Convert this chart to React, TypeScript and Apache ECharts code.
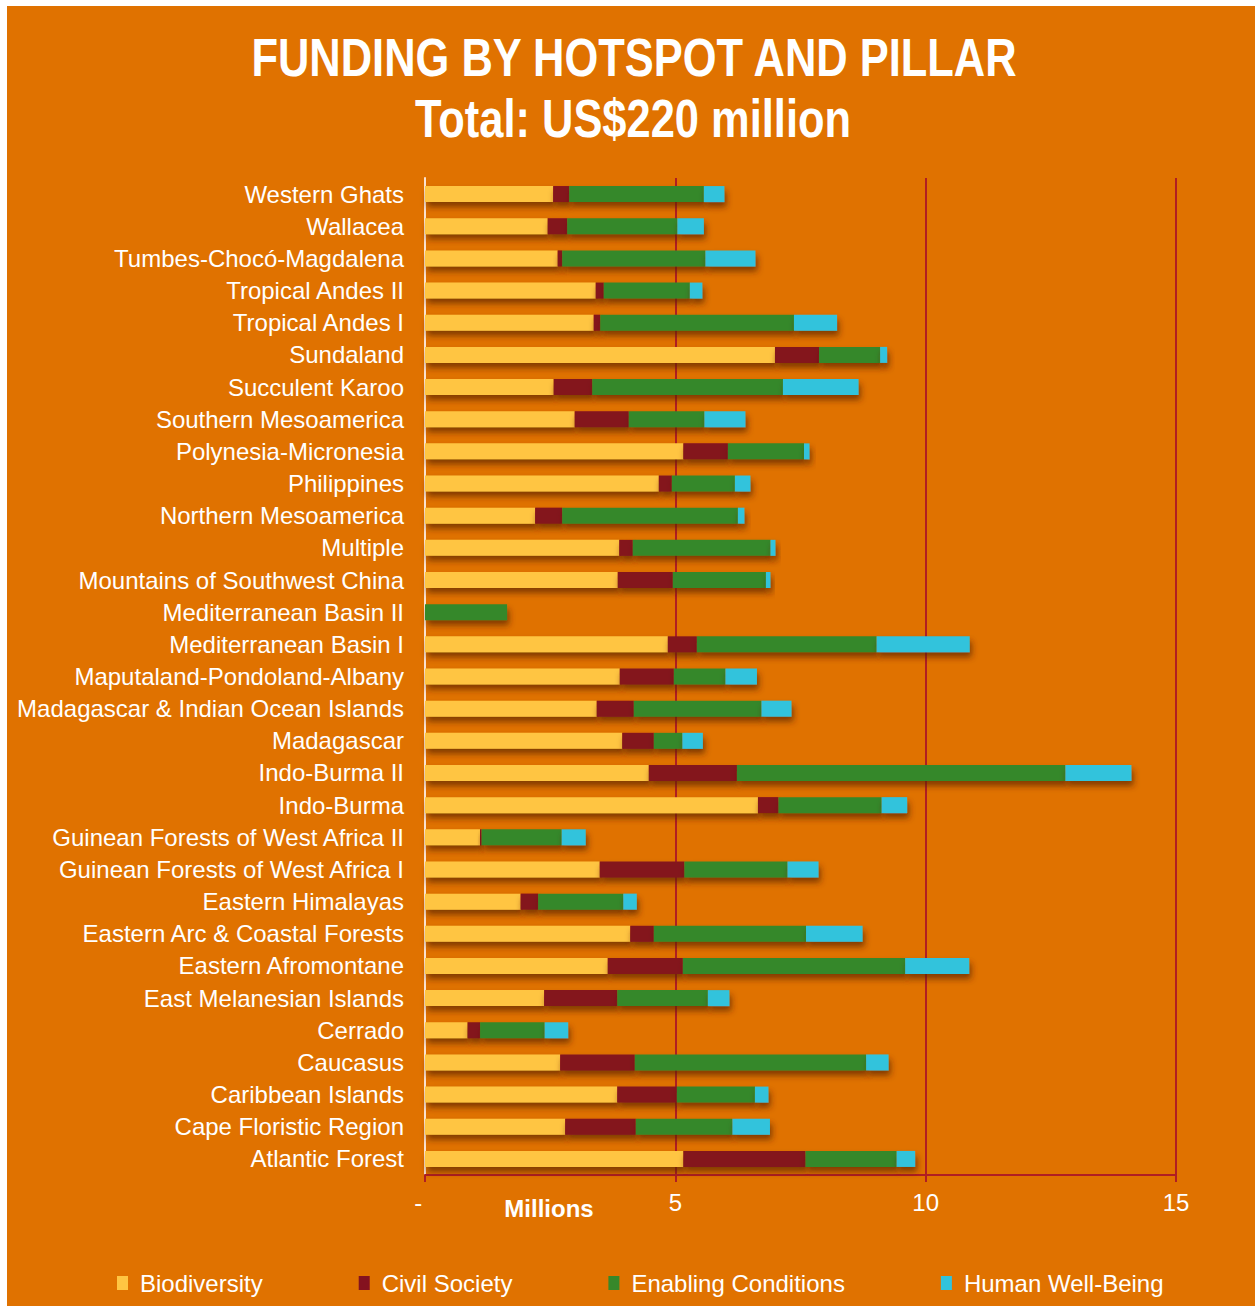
import React, { useEffect, useRef } from "react";
import * as echarts from "echarts";

const categories = [
  "Western Ghats", "Wallacea", "Tumbes-Chocó-Magdalena", "Tropical Andes II", "Tropical Andes I",
  "Sundaland", "Succulent Karoo", "Southern Mesoamerica", "Polynesia-Micronesia", "Philippines",
  "Northern Mesoamerica", "Multiple", "Mountains of Southwest China", "Mediterranean Basin II",
  "Mediterranean Basin I", "Maputaland-Pondoland-Albany", "Madagascar & Indian Ocean Islands",
  "Madagascar", "Indo-Burma II", "Indo-Burma", "Guinean Forests of West Africa II",
  "Guinean Forests of West Africa I", "Eastern Himalayas", "Eastern Arc & Coastal Forests",
  "Eastern Afromontane", "East Melanesian Islands", "Cerrado", "Caucasus", "Caribbean Islands",
  "Cape Floristic Region", "Atlantic Forest",
];

const biodiversity = [2.56, 2.45, 2.65, 3.41, 3.37, 6.99, 2.57, 2.99, 5.16, 4.67, 2.2, 3.88, 3.85, 0, 4.85, 3.89, 3.43, 3.94, 4.47, 6.65, 1.1, 3.49, 1.91, 4.1, 3.65, 2.38, 0.85, 2.7, 3.84, 2.8, 5.16];
const civilSociety = [0.32, 0.39, 0.09, 0.16, 0.13, 0.88, 0.77, 1.08, 0.89, 0.26, 0.54, 0.27, 1.1, 0, 0.58, 1.08, 0.74, 0.63, 1.76, 0.41, 0.03, 1.69, 0.35, 0.47, 1.5, 1.46, 0.25, 1.49, 1.19, 1.41, 2.44];
const enablingConditions = [2.69, 2.2, 2.86, 1.72, 3.87, 1.22, 3.81, 1.51, 1.52, 1.26, 3.51, 2.75, 1.86, 1.64, 3.59, 1.03, 2.55, 0.57, 6.56, 2.06, 1.6, 2.06, 1.7, 3.04, 4.44, 1.81, 1.29, 4.62, 1.56, 1.93, 1.82];
const humanWellBeing = [0.41, 0.53, 1.0, 0.25, 0.86, 0.14, 1.51, 0.82, 0.11, 0.31, 0.13, 0.1, 0.09, 0, 1.86, 0.63, 0.6, 0.41, 1.32, 0.51, 0.48, 0.62, 0.27, 1.13, 1.28, 0.43, 0.47, 0.45, 0.27, 0.75, 0.37];

const seriesNames = ["Biodiversity", "Civil Society", "Enabling Conditions", "Human Well-Being"];
const seriesColors = ["#FFC542", "#84121F", "#36882A", "#31C3DC"];
const seriesValues = [biodiversity, civilSociety, enablingConditions, humanWellBeing];

const titleLines = ["FUNDING BY HOTSPOT AND PILLAR", "Total: US$220 million"];

const FONT = "'Liberation Sans', Arial, sans-serif";

export default function App() {
  const ref = useRef<HTMLDivElement>(null);

  useEffect(() => {
    document.body.style.margin = "0";
    if (!ref.current) return;
    const chart = echarts.init(ref.current, null, { renderer: "svg" });
    chart.setOption({
      animation: false,
      backgroundColor: "#E07200",
      legend: {
        data: seriesNames,
        left: 105,
        top: 1260,
        itemWidth: 11,
        itemHeight: 14,
        itemGap: 96,
        icon: "rect",
        textStyle: { color: "#ffffff", fontSize: 24, fontFamily: FONT, padding: [0, 0, 0, 7] },
      },
      grid: { left: 418, top: 172, width: 751, height: 997, containLabel: false },
      xAxis: {
        type: "value",
        min: 0,
        max: 15,
        interval: 5,
        axisLine: { show: true, lineStyle: { color: "#B01E23", width: 2 } },
        axisTick: { show: true, length: 7, lineStyle: { color: "#B01E23", width: 2 } },
        splitLine: { show: true, lineStyle: { color: "#B01E23", width: 2 } },
        axisLabel: {
          color: "#ffffff",
          fontSize: 24,
          fontFamily: FONT,
          margin: 15,
          formatter: (v: number) => (v === 0 ? "-  " : String(v)),
        },
      },
      yAxis: {
        type: "category",
        data: categories,
        inverse: true,
        axisLine: { show: true, lineStyle: { color: "#FBE3D0", width: 2 } },
        axisTick: { show: false },
        axisLabel: { color: "#ffffff", fontSize: 24, fontFamily: FONT, margin: 21 },
      },
      graphic: [
        {
          type: "text",
          x: 627,
          y: 51,
          scaleX: 0.82,
          style: {
            text: titleLines[0],
            fill: "#ffffff",
            font: `bold 53px ${FONT}`,
            textAlign: "center",
            textVerticalAlign: "middle",
          },
        },
        {
          type: "text",
          x: 626,
          y: 112,
          scaleX: 0.82,
          style: {
            text: titleLines[1],
            fill: "#ffffff",
            font: `bold 53px ${FONT}`,
            textAlign: "center",
            textVerticalAlign: "middle",
          },
        },
        {
          type: "text",
          x: 542,
          y: 1202,
          style: {
            text: "Millions",
            fill: "#ffffff",
            font: `bold 24px ${FONT}`,
            textAlign: "center",
            textVerticalAlign: "middle",
          },
        },
      ],
      series: seriesNames.map((name, i) => ({
        name,
        type: "bar",
        stack: "total",
        barWidth: 16,
        data: seriesValues[i],
        itemStyle: {
          color: seriesColors[i],
          shadowColor: "rgba(90,35,0,0.7)",
          shadowBlur: 6,
          shadowOffsetX: 2,
          shadowOffsetY: 5,
        },
      })),
    });
    return () => chart.dispose();
  }, []);

  return (
    <div
      ref={ref}
      style={{ position: "absolute", left: 7, top: 6, width: 1248, height: 1300 }}
    />
  );
}
